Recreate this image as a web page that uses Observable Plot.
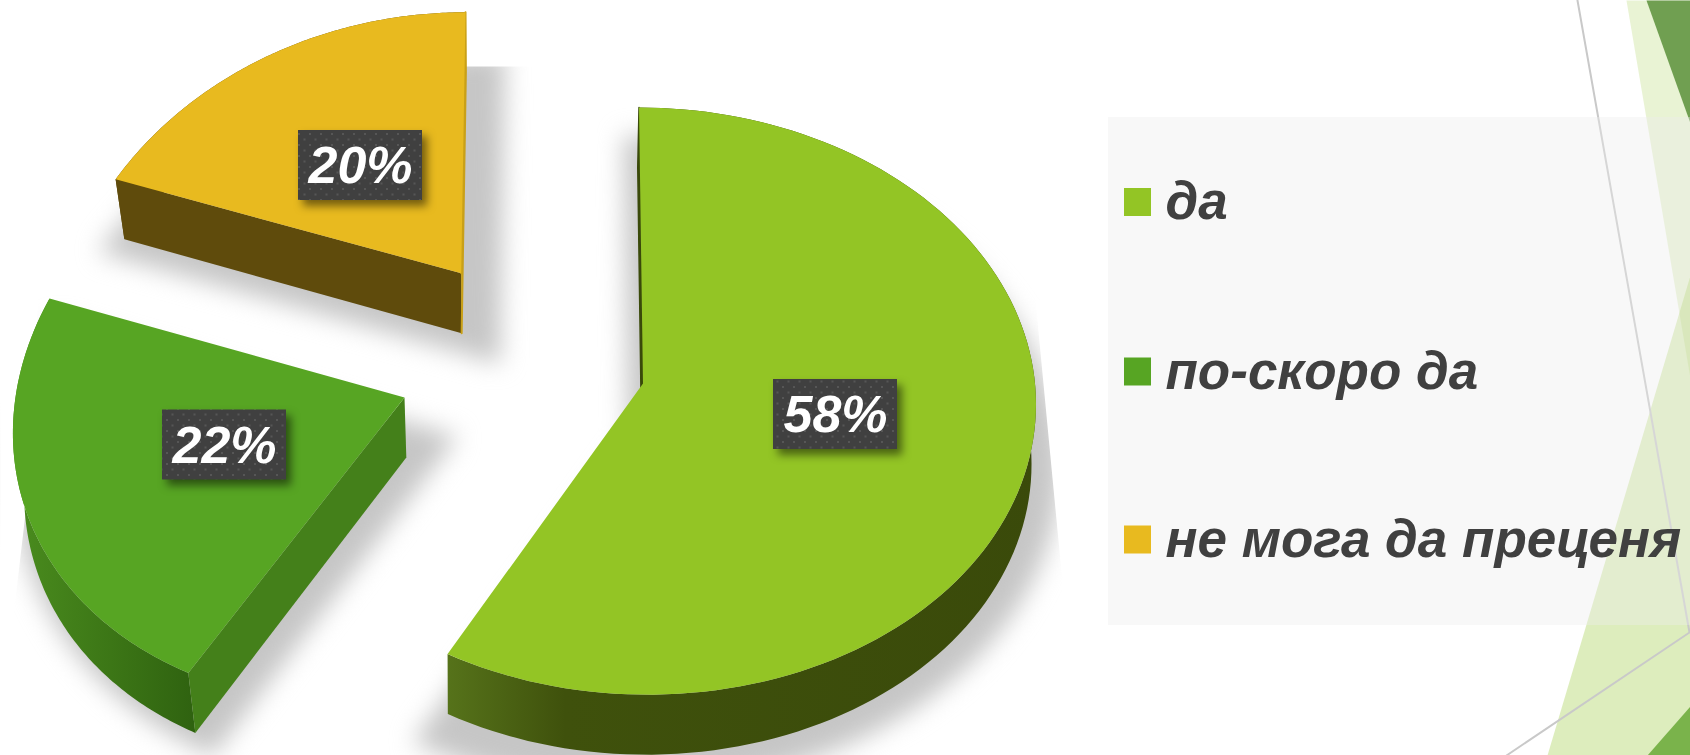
<!DOCTYPE html>
<html><head><meta charset="utf-8">
<script src="https://cdn.jsdelivr.net/npm/d3@7"></script>
<script src="https://cdn.jsdelivr.net/npm/@observablehq/plot@0.6"></script>
<style>html,body{margin:0;padding:0;background:#fff}svg{display:block}</style>
</head><body><div id="chart"></div>
<script>
// DATA
const categories = ["да", "по-скоро да", "не мога да преценя"];
const shares = [58, 22, 20];
const valueLabels = ["58%", "22%", "20%"];

// STYLE / LAYOUT
const W = 1690, H = 755;
const topColors = ["#93c525", "#57a523", "#e8ba1f"];
const wallColors = ["#3a4a0a", "#44801a", "#5f4b0c"];
const pieLayout = [
  {apexX: 642.5, apexY: 383, rx: 392, ry: 292.5, k: 0.06, skew: 0.0144, bulge: 0, depthScale: 0.992, labelX: 835, labelY: 414, rimFill: "url(#rim0)", shadow: [1.11, 8, 4]},
  {apexX: 404, apexY: 397, rx: 384, ry: 319, k: -0.017, skew: -0.123, bulge: 0.02, depthScale: 0.976, labelX: 224, labelY: 444.5, rimFill: "url(#rim1)", shadow: [1.16, -2, -4]},
  {apexX: 460.7, apexY: 272.7, rx: 394, ry: 328, k: 0.257, skew: -0.0165, bulge: 0, depthScale: 0.976, labelX: 360, labelY: 165, rimFill: "#5f4b0c", shadow: [1.19, 5, -8]}
];
const vanishX = 480, depth = 60;
const boxW = 124, boxH = 70;
const legendX = 1124, legendSwatch = 27, legendTextX = 1165, legendY = [202, 371.5, 539.5];
const fontFamily = "'Liberation Sans', Arial, sans-serif";

const facets = [
  {pts: [[1626,0],[1690,0],[1690,378]], fill: "#90c226", op: 0.2},
  {pts: [[1690,275],[1690,755],[1547,755]], fill: "#90c226", op: 0.3},
  {pts: [[1646,0],[1690,0],[1690,123]], fill: "#5b8f3a", op: 0.85},
  {pts: [[1690,706],[1690,755],[1647,755]], fill: "#6fac3e", op: 0.9}
];
const themeLines = [[[1577,0],[1689,632],[1506,755]]];
// where the reference's soft shadows are cut off with a hard edge
const shadowCuts = [
  [[400,0],[600,0],[600,66],[400,66]],
  [[0,260],[40,260],[25,513],[9,650],[9,755],[0,755]],
  [[1035,300],[1105,300],[1105,755],[1062,755],[1062,582]]
];

let acc = 0;
const angles = shares.map(s => { const a0 = acc; acc += s / 100 * 2 * Math.PI; return [a0, acc]; });
function project(l, a, t) {
  const r = 1 + l.bulge * Math.sin(Math.PI * t);
  const u = Math.sin(a) * r, v = Math.cos(a) * r, s = 1 / (1 + l.k * v);
  const y = l.apexY - l.ry * v * s;
  const x = l.apexX + l.rx * u * s + l.skew * (y - l.apexY);
  return [x, y];
}
const dropper = l => ([x, y]) => [vanishX + (x - vanishX) * l.depthScale, y + depth];
const rims = angles.map(([a0, a1], i) => d3.range(0, 121).map(j => project(pieLayout[i], a0 + (a1 - a0) * j / 120, j / 120)));
const apexes = pieLayout.map(l => [l.apexX, l.apexY]);
const tops = rims.map((r, i) => [apexes[i], ...r]);
const rimWalls = rims.map((r, i) => [...r, ...r.map(dropper(pieLayout[i])).reverse()]);
const cut = (r0, i) => [apexes[i], r0, dropper(pieLayout[i])(r0), dropper(pieLayout[i])(apexes[i])];
const cutA = rims.map((r, i) => cut(r[0], i));
const cutB = rims.map((r, i) => cut(r[120], i));
function grow(pts, [f, dx, dy]) {
  const c = [d3.mean(pts, p => p[0]), d3.mean(pts, p => p[1])];
  return pts.map(([x, y]) => [c[0] + (x - c[0]) * f + dx, c[1] + (y - c[1]) * f + dy]);
}
const shadows = tops.map((t, i) => grow(t.map(dropper(pieLayout[i])), pieLayout[i].shadow));

const poly = (pts, o) => Plot.line(pts, {x: d => d[0], y: d => d[1], stroke: "none", ...o});

const defs = () => {
  const d = d3.create("svg:defs");
  const grad = (id, x1, x2, stops) => {
    const g = d.append("linearGradient").attr("id", id).attr("gradientUnits", "userSpaceOnUse")
      .attr("x1", x1).attr("x2", x2).attr("y1", 0).attr("y2", 0);
    stops.forEach(([o, c]) => g.append("stop").attr("offset", o).attr("stop-color", c));
  };
  grad("rim0", 446, 1040, [[0, "#56731a"], [0.2, "#3f510c"], [1, "#3a4a0a"]]);
  grad("rim1", 15, 195, [[0, "#4a8c1e"], [0.6, "#3a7315"], [1, "#2f6210"]]);
  const p = d.append("pattern").attr("id", "dots").attr("patternUnits", "userSpaceOnUse").attr("width", 11).attr("height", 11);
  p.append("rect").attr("width", 11).attr("height", 11).attr("fill", "#404040");
  p.append("rect").attr("x", 1).attr("y", 1).attr("width", 2).attr("height", 2).attr("fill", "#565656");
  p.append("rect").attr("x", 6.5).attr("y", 6.5).attr("width", 2).attr("height", 2).attr("fill", "#565656");
  return d.node();
};

const marks = [
  defs,
  ...facets.map(f => poly(f.pts, {fill: f.fill, fillOpacity: f.op})),
  ...themeLines.map(l => Plot.line(l, {x: d => d[0], y: d => d[1], stroke: "#c9c9c9", strokeWidth: 2})),
  Plot.rect([0], {x1: 1108, x2: W, y1: 117, y2: 625, fill: "#ededed", fillOpacity: 0.375}),
  ...shadows.map(s => poly(s, {fill: "#c6c6c6", imageFilter: "blur(12px)"})),
  ...shadowCuts.map(c => poly(c, {fill: "#fff"})),
  ...rimWalls.map((w, i) => poly(w, {fill: pieLayout[i].rimFill})),
  poly(cutA[0], {fill: "#3a4a0a", stroke: "#3a4a0a", strokeWidth: 1.5}),
  poly(cutA[1], {fill: wallColors[1]}),
  poly(cutA[2], {fill: wallColors[2]}),
  poly(cutB[2], {fill: "#c9a017", stroke: "#c9a017", strokeWidth: 2}),
  ...tops.map((t, i) => poly(t, {fill: topColors[i]})),
  Plot.rect(pieLayout, {
    x1: d => d.labelX - boxW / 2, x2: d => d.labelX + boxW / 2,
    y1: d => d.labelY - boxH / 2, y2: d => d.labelY + boxH / 2,
    fill: "url(#dots)", imageFilter: "drop-shadow(5px 6px 4px rgba(0,0,0,0.5))"
  }),
  Plot.text(valueLabels, {
    x: (d, i) => pieLayout[i].labelX, y: (d, i) => pieLayout[i].labelY + 1, text: d => d,
    fill: "#fff", fontFamily, fontSize: 52, fontWeight: "bold", fontStyle: "italic"
  }),
  Plot.rect(categories, {
    x1: () => legendX, x2: () => legendX + legendSwatch,
    y1: (d, i) => legendY[i] - 14, y2: (d, i) => legendY[i] + 14,
    fill: (d, i) => topColors[i]
  }),
  Plot.text(categories, {
    x: () => legendTextX, y: (d, i) => legendY[i], text: d => d, textAnchor: "start",
    fill: "#404040", fontFamily, fontSize: 53, fontWeight: "bold", fontStyle: "italic"
  })
];

const chart = Plot.plot({
  width: W, height: H, margin: 0,
  x: {domain: [0, W], range: [0, W], axis: null},
  y: {domain: [0, H], range: [0, H], axis: null},
  color: {type: "identity"},
  marks
});
document.getElementById("chart").append(chart);
</script></body></html>
